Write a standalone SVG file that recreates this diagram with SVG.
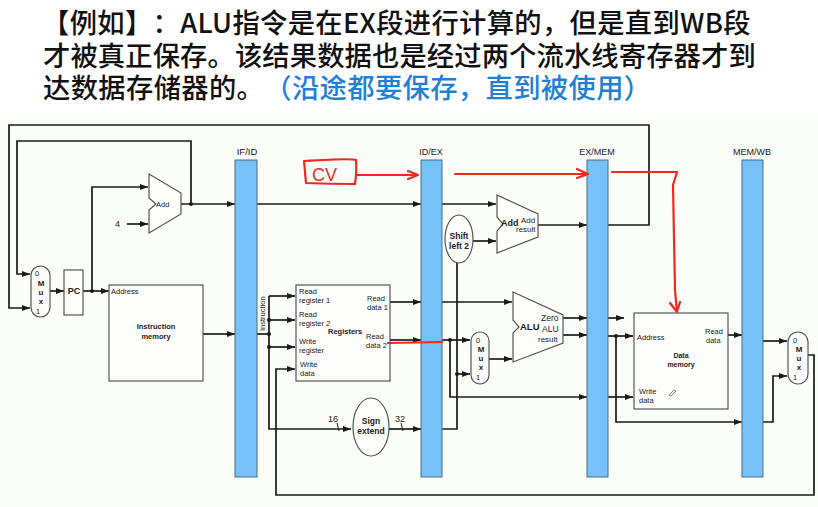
<svg xmlns="http://www.w3.org/2000/svg" width="818" height="507" viewBox="0 0 818 507" font-size="7.5">
<style>
text{font-family:"Liberation Sans",Arial,sans-serif;fill:#222}
.t{font-family:"Noto Sans CJK SC","Liberation Sans",sans-serif;font-size:27.3px;font-weight:500;fill:#111;text-spacing-trim:space-all}
.b{font-weight:bold}
.m{text-anchor:middle}
.x{font-size:8px;font-weight:bold;text-anchor:middle}
.bar{fill:#76c1f8;stroke:#4d6f80;stroke-width:1}
.box{fill:#fdfefc;stroke:#555;stroke-width:1.2}
.c{fill:none;stroke:#1a1a1a;stroke-width:1.7}
.c2{fill:none;stroke:#1a1a1a;stroke-width:1.7;marker-end:url(#a)}
.r{fill:none;stroke:#f0281e;stroke-width:2.2;stroke-linecap:round;stroke-linejoin:round}
</style>
<defs>
<marker id="a" markerUnits="userSpaceOnUse" markerWidth="9" markerHeight="7" refX="8" refY="3" orient="auto"><path d="M0 0L8 3L0 6z" fill="#1a1a1a"/></marker>
<circle id="d" r="2" fill="#1a1a1a"/>
</defs>
<rect width="818" height="507" fill="#fff"/>
<rect x="0" y="118" width="818" height="389" fill="#fbfdf9"/>
<g id="title">
<text class="t" x="42" y="33" letter-spacing=".33">【例如】：ALU指令是在EX段进行计算的，但是直到WB段</text>
<text class="t" x="43" y="66" letter-spacing=".12">才被真正保存。该结果数据也是经过两个流水线寄存器才到</text>
<text class="t" x="43" y="98" letter-spacing=".36">达数据存储器的。<tspan style="fill:#1f80d4">（沿途都要保存，直到被使用）</tspan></text>
</g>
<g id="connectors">
<path class="c2" d="M608 225H649V125H9V308H30"/>
<path class="c2" d="M191 204V141H17V274H30"/>
<path class="c2" d="M50 291H64"/>
<path class="c2" d="M83 291H109"/>
<path class="c2" d="M92 291V187H148"/>
<path class="c2" d="M127 224H148"/>
<path class="c2" d="M181 204H235"/>
<path class="c2" d="M257 204H421"/>
<path class="c2" d="M203 334H235"/>
<path class="c" d="M257 334H269"/>
<path class="c2" d="M269 296V429H351"/>
<path class="c2" d="M269 296H295"/>
<path class="c2" d="M269 320H295"/>
<path class="c2" d="M269 347H295"/>
<path class="c2" d="M389 429H421"/>
<path class="c2" d="M390 302H421"/>
<path class="c2" d="M390 340H421"/>
<path class="c2" d="M442 302H512"/>
<path class="c2" d="M442 204H496"/>
<path class="c2" d="M473 241H496"/>
<path class="c" d="M442 429H457V262"/>
<path class="c2" d="M442 340H470"/>
<path class="c2" d="M450 340V397H587"/>
<path class="c2" d="M457 374H470"/>
<path class="c2" d="M489 359H512"/>
<path class="c2" d="M538 225H587"/>
<path class="c2" d="M563 318H587"/>
<path class="c2" d="M563 335H587"/>
<path class="c2" d="M608 318H624"/>
<path class="c2" d="M608 336H633"/>
<path class="c2" d="M608 397H633"/>
<path class="c2" d="M616 336V422H742"/>
<path class="c2" d="M728 335H742"/>
<path class="c2" d="M763 341H787"/>
<path class="c2" d="M763 422H773V376H787"/>
<path class="c2" d="M808 355H814V495H276V369H295"/>
<path d="M337 423L339 431M401 423L403 431" fill="none" stroke="#1a1a1a" stroke-width="1"/>
<use href="#d" x="191" y="204"/><use href="#d" x="92" y="291"/><use href="#d" x="269" y="320"/><use href="#d" x="269" y="334"/><use href="#d" x="269" y="347"/><use href="#d" x="450" y="340"/><use href="#d" x="457" y="374"/><use href="#d" x="616" y="336"/>
</g>
<g id="mux-pc"><rect class="box" x="31" y="266" width="19" height="51" rx="9.5"/><text x="35" y="276" font-size="7.5">0</text><text class="x" x="41" y="286">M</text><text class="x" x="41" y="295">u</text><text class="x" x="41" y="304">x</text><text x="36" y="314" font-size="7.5">1</text></g>
<g id="pc"><rect class="box" x="64" y="270" width="19" height="45"/><text class="b m" x="74" y="294" font-size="9">PC</text></g>
<g id="add-pc"><path class="box" d="M149 174L181 193V214L149 233V210L156 204L149 198Z"/><text x="156" y="207">Add</text></g>
<text id="four" x="115" y="227" font-size="9">4</text>
<g id="instruction-memory"><rect class="box" x="109" y="285" width="94" height="96"/><text x="111" y="294">Address</text><text class="b m" x="156" y="329">Instruction</text><text class="b m" x="156" y="339">memory</text></g>
<g id="if-id"><rect class="bar" x="235" y="160" width="22" height="317"/><text class="m" x="247" y="155" font-size="9.5">IF/ID</text></g>
<g id="id-ex"><rect class="bar" x="421" y="160" width="21" height="317"/><text class="m" x="431" y="155" font-size="9">ID/EX</text></g>
<g id="ex-mem"><rect class="bar" x="587" y="160" width="21" height="317"/><text class="m" x="597" y="155" font-size="9">EX/MEM</text></g>
<g id="mem-wb"><rect class="bar" x="742" y="160" width="21" height="317"/><text class="m" x="752" y="155" font-size="9">MEM/WB</text></g>
<text id="instruction-label" transform="translate(265 331) rotate(-90)" font-size="7.5">Instruction</text>
<g id="registers"><rect class="box" x="296" y="285" width="94" height="96"/>
<text x="299" y="294">Read</text><text x="299" y="303">register 1</text><text x="299" y="317">Read</text><text x="299" y="326">register 2</text><text x="299" y="344">Write</text><text x="299" y="353">register</text><text x="300" y="367">Write</text><text x="300" y="376">data</text>
<text x="367" y="301">Read</text><text x="367" y="310">data 1</text><text x="366" y="339">Read</text><text x="366" y="348">data 2</text><text class="b" x="328" y="334">Registers</text></g>
<g id="sign-extend"><ellipse class="box" cx="371" cy="427" rx="18" ry="29"/><text class="b m" x="371" y="424" font-size="8.5">Sign</text><text class="b m" x="371" y="434" font-size="8.5">extend</text></g>
<text id="n16" x="328" y="422" font-size="9">16</text><text id="n32" x="395" y="422" font-size="9">32</text>
<g id="shift-left"><ellipse class="box" cx="459" cy="239" rx="14" ry="24"/><text class="b m" x="459" y="239" font-size="8.5">Shift</text><text class="b m" x="459" y="249" font-size="8.5">left 2</text></g>
<g id="add-branch"><path class="box" d="M497 195L538 214V237L497 253V231L503 224L497 217Z"/><text class="b" x="501" y="226" font-size="9">Add</text><text x="521" y="223" font-size="8">Add</text><text x="516" y="232" font-size="8">result</text></g>
<g id="mux-alu"><rect class="box" x="471" y="332" width="18" height="52" rx="9"/><text x="476" y="343" font-size="7.5">0</text><text class="x" x="481" y="352">M</text><text class="x" x="481" y="361">u</text><text class="x" x="481" y="370">x</text><text x="476" y="380" font-size="7.5">1</text></g>
<g id="alu"><path class="box" d="M513 292L563 315V343L513 362V333L519 327L513 320Z"/><text class="b" x="520" y="330" font-size="9.5">ALU</text><text x="541" y="321" font-size="8.5">Zero</text><text x="542" y="332" font-size="8.5">ALU</text><text x="538" y="342" font-size="8">result</text></g>
<g id="data-memory"><rect class="box" x="634" y="313" width="94" height="96"/><text x="637" y="340">Address</text><text x="705" y="334">Read</text><text x="706" y="343">data</text><text class="b m" x="681" y="358" font-size="7">Data</text><text class="b m" x="681" y="367" font-size="7">memory</text><text x="639" y="394">Write</text><text x="639" y="403">data</text><path d="M669 395l5-5 2 1-5 5z" fill="none" stroke="#555" stroke-width=".7"/></g>
<g id="mux-wb"><rect class="box" x="788" y="332" width="20" height="52" rx="10"/><text x="793" y="343" font-size="7.5">0</text><text class="x" x="799" y="352">M</text><text class="x" x="799" y="361">u</text><text class="x" x="799" y="370">x</text><text x="793" y="380" font-size="7.5">1</text></g>
<g id="annotations">
<path class="r" d="M304 161L306 183Q330 184 355 184Q357 170 356 160Q352 158 304 161"/>
<text x="312" y="181" font-size="18" style="fill:#f0281e">CV</text>
<path class="r" d="M357 175H418M408 171L418 175L408 179"/>
<path class="r" d="M455 174H587M577 169L588 174L577 178"/>
<path class="r" d="M612 172H677L673 185L675 290L677 312M670 303L677 312L680 302"/>
<path class="r" d="M388 343L442 342"/>
</g>
</svg>
